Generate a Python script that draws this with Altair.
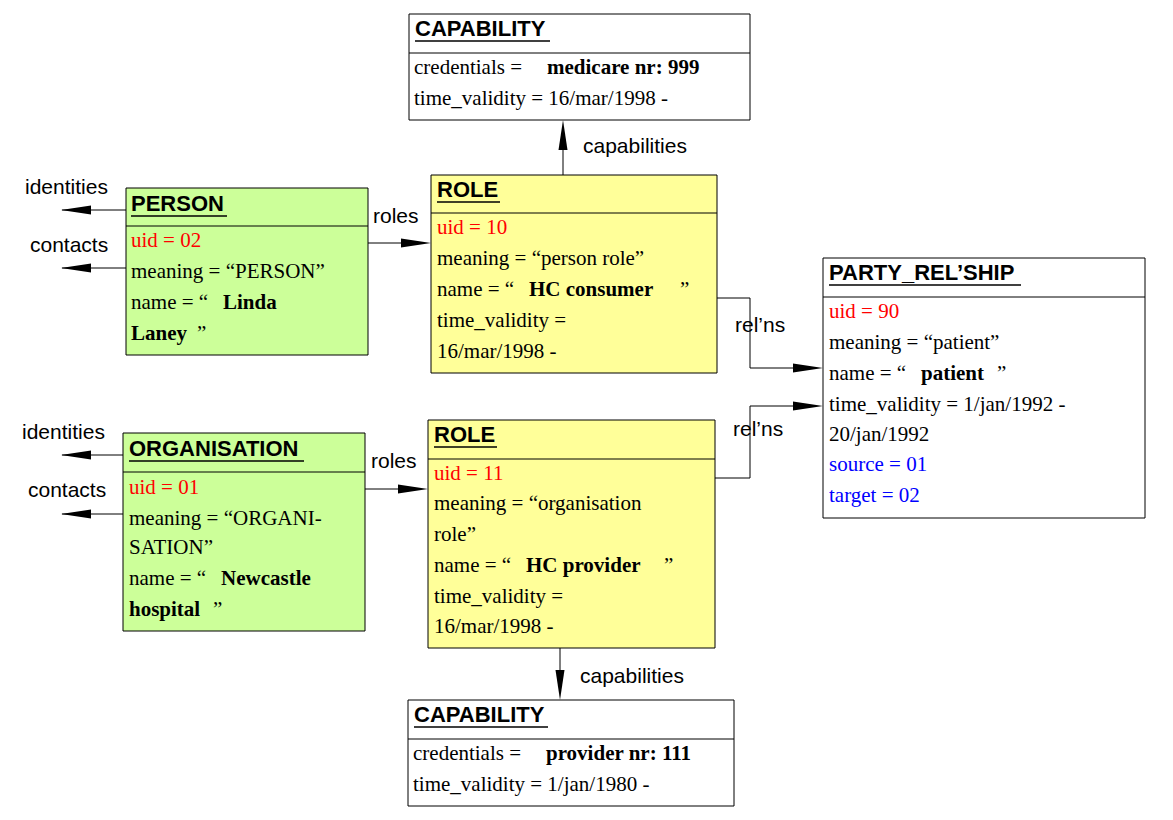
import pandas as pd
import altair as alt

W, H = 1157, 804
SERIF = "Liberation Serif"
SANS = "Liberation Sans"

# boxes: name, x1, x2, y1, y2, header line y, fill
box_name = ["cap_top", "person", "role1", "party", "org", "role2", "cap_bot"]
box_x1 = [409, 126, 431, 823, 123, 428, 408]
box_x2 = [750, 368, 717, 1145, 365, 715, 734]
box_y1 = [14, 188, 175, 258, 433, 420, 700]
box_y2 = [120, 355, 373, 518, 631, 648, 806]
box_sep = [53, 226, 213, 297, 472, 459, 739]
box_fill = ["#ffffff", "#ccff99", "#ffff99", "#ffffff", "#ccff99", "#ffff99", "#ffffff"]

# headers: text, x, y, underline end
head_text = ["CAPABILITY", "PERSON", "ROLE", "PARTY_REL\u2019SHIP", "ORGANISATION", "ROLE", "CAPABILITY"]
head_x = [415, 131, 437, 829, 129, 434, 414]
head_y = [29, 204, 190, 273, 449, 435, 715]
head_end = [550, 227, 500, 1021, 304, 497, 548]

# body text segments
seg_text = [
    "credentials = ", "medicare nr: 999", "time_validity = 16/mar/1998 -",
    "uid = 02", "meaning = \u201cPERSON\u201d", "name = \u201c", "Linda", "Laney", "\u201d",
    "uid = 10", "meaning = \u201cperson role\u201d", "name = \u201c", "HC consumer", "\u201d",
    "time_validity =", "16/mar/1998 -",
    "uid = 90", "meaning = \u201cpatient\u201d", "name = \u201c", "patient", "\u201d",
    "time_validity = 1/jan/1992 -", "20/jan/1992", "source = 01", "target = 02",
    "uid = 01", "meaning = \u201cORGANI-", "SATION\u201d", "name = \u201c", "Newcastle",
    "hospital", "\u201d",
    "uid = 11", "meaning = \u201corganisation", "role\u201d", "name = \u201c", "HC provider", "\u201d",
    "time_validity =", "16/mar/1998 -",
    "credentials = ", "provider nr: 111", "time_validity = 1/jan/1980 -",
]
seg_x = [414, 547, 414,
         131, 131, 131, 223, 131, 197,
         437, 437, 437, 529, 680, 437, 437,
         829, 829, 829, 921, 997, 829, 829, 829, 829,
         129, 129, 129, 129, 221, 129, 213,
         434, 434, 434, 434, 526, 664, 434, 434,
         413, 546, 413]
seg_y = [68, 68, 99,
         241, 272, 303, 303, 334, 334,
         228, 259, 290, 290, 290, 321, 352,
         312, 343, 374, 374, 374, 405, 435, 465, 496,
         488, 519, 548, 579, 579, 610, 610,
         474, 504, 535, 566, 566, 566, 597, 627,
         754, 754, 785]
seg_color = ["black"] * len(seg_text)
for i in [3, 9, 16, 25, 32]:
    seg_color[i] = "red"
for i in [23, 24]:
    seg_color[i] = "blue"
bold_idx = [1, 6, 7, 12, 19, 29, 30, 36, 41]
seg_weight = ["bold" if i in bold_idx else "normal" for i in range(len(seg_text))]

# connector segments
ln_x1 = [563, 560, 368, 365, 62, 62, 62, 62, 717, 750, 750, 715, 750, 750]
ln_x2 = [563, 560, 410, 407, 126, 126, 123, 123, 750, 750, 800, 750, 750, 800]
ln_y1 = [175, 648, 243, 489, 210, 268, 455, 514, 298, 298, 368, 478, 478, 406]
ln_y2 = [145, 675, 243, 489, 210, 268, 455, 514, 298, 368, 368, 478, 406, 406]

# arrowheads: x, y, direction
UP = "M0,-1L0.3,1L-0.3,1Z"
DOWN = "M0,1L0.3,-1L-0.3,-1Z"
RIGHT = "M1,0L-1,0.3L-1,-0.3Z"
LEFT = "M-1,0L1,0.3L1,-0.3Z"
ah_x = [563, 560, 416, 413, 76, 76, 76, 76, 808, 808]
ah_y = [135, 685, 243, 489, 210, 268, 455, 514, 368, 406]
ah_shape = [UP, DOWN, RIGHT, RIGHT, LEFT, LEFT, LEFT, LEFT, RIGHT, RIGHT]

# connector labels
lab_text = ["capabilities", "identities", "contacts", "roles", "identities", "contacts",
            "roles", "rel\u2019ns", "rel\u2019ns", "capabilities"]
lab_x = [583, 25, 30, 373, 22, 28, 371, 735, 733, 580]
lab_y = [147, 188, 246, 217, 433, 491, 462, 326, 430, 677]

xs = alt.Scale(domain=[8, 8 + W], nice=False, zero=False)
ys = alt.Scale(domain=[8, 8 + H], nice=False, zero=False, reverse=True)
noax = None

boxes = pd.DataFrame({"n": box_name, "x1": box_x1, "x2": box_x2, "y1": box_y1,
                      "y2": box_y2, "sep": box_sep, "fill": box_fill})
heads = pd.DataFrame({"t": head_text, "x": head_x, "y": head_y, "e": head_end})
heads["u"] = heads["y"] + 12
segs = pd.DataFrame({"t": seg_text, "x": seg_x, "y": seg_y, "c": seg_color, "w": seg_weight})
lines = pd.DataFrame({"x1": ln_x1, "x2": ln_x2, "y1": ln_y1, "y2": ln_y2})
heads_df = pd.DataFrame({"x": ah_x, "y": ah_y, "s": ah_shape})
labs = pd.DataFrame({"t": lab_text, "x": lab_x, "y": lab_y})

rects = alt.Chart(boxes).mark_rect(stroke="black", strokeWidth=1).encode(
    x=alt.X("x1:Q", scale=xs, axis=noax), x2="x2", y=alt.Y("y1:Q", scale=ys, axis=noax), y2="y2",
    fill=alt.Fill("fill:N", scale=None))
seps = alt.Chart(boxes).mark_rule(color="black", strokeWidth=1).encode(
    x=alt.X("x1:Q", scale=xs, axis=noax), x2="x2", y=alt.Y("sep:Q", scale=ys, axis=noax))
htext = alt.Chart(heads).mark_text(align="left", baseline="middle", font=SANS, fontSize=22,
                                   fontWeight="bold").encode(
    x=alt.X("x:Q", scale=xs, axis=noax), y=alt.Y("y:Q", scale=ys, axis=noax), text="t")
hline = alt.Chart(heads).mark_rule(color="black", strokeWidth=1.5).encode(
    x=alt.X("x:Q", scale=xs, axis=noax), x2="e", y=alt.Y("u:Q", scale=ys, axis=noax))
body = alt.Chart(segs).encode(
    x=alt.X("x:Q", scale=xs, axis=noax), y=alt.Y("y:Q", scale=ys, axis=noax), text="t",
    color=alt.Color("c:N", scale=None))
btext = body.mark_text(align="left", baseline="middle", font=SERIF, fontSize=21).transform_filter(
    alt.datum.w == "normal")
btext_b = body.mark_text(align="left", baseline="middle", font=SERIF, fontSize=21,
                         fontWeight="bold").transform_filter(alt.datum.w == "bold")
conn = alt.Chart(lines).mark_rule(color="black", strokeWidth=1).encode(
    x=alt.X("x1:Q", scale=xs, axis=noax), x2="x2", y=alt.Y("y1:Q", scale=ys, axis=noax), y2="y2")
arrows = alt.Chart(heads_df).mark_point(filled=True, color="black", opacity=1, size=900).encode(
    x=alt.X("x:Q", scale=xs, axis=noax), y=alt.Y("y:Q", scale=ys, axis=noax),
    shape=alt.Shape("s:N", scale=None))
ltext = alt.Chart(labs).mark_text(align="left", baseline="middle", font=SANS, fontSize=21).encode(
    x=alt.X("x:Q", scale=xs, axis=noax), y=alt.Y("y:Q", scale=ys, axis=noax), text="t")

chart = (conn + arrows + rects + seps + htext + hline + btext + btext_b + ltext).properties(
    width=W, height=H, padding=0, autosize="none", background="white"
).configure_view(stroke=None)

chart.save("out.html", embed_options={"renderer": "svg", "actions": False})
